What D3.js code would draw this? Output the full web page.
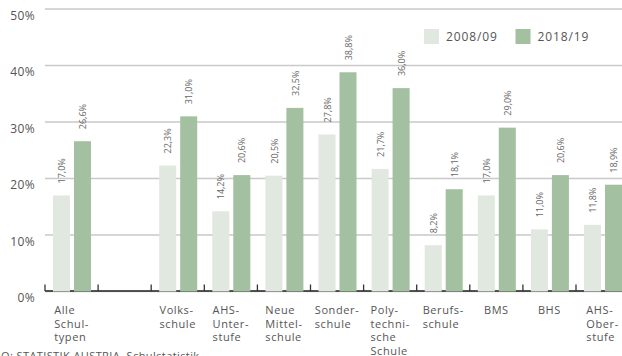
<!DOCTYPE html>
<html><head><meta charset="utf-8">
<script src="https://cdn.jsdelivr.net/npm/d3@7"></script>
<style>
html,body{margin:0;padding:0;background:#fff;overflow:hidden}
text{font-family:"Open Sans",sans-serif}
</style></head>
<body><svg id="c" width="622" height="356"></svg>
<script>
// ---- data ----
const categories = ["Alle Schultypen", "_gap", "Volksschule", "AHS-Unterstufe", "Neue Mittelschule", "Sonderschule", "Polytechnische Schule", "Berufsschule", "BMS", "BHS", "AHS-Oberstufe"];
const categoryLabels = [["Alle","Schul-","typen"], [], ["Volks-","schule"], ["AHS-","Unter-","stufe"], ["Neue","Mittel-","schule"], ["Sonder-","schule"], ["Poly-","techni-","sche","Schule"], ["Berufs-","schule"], ["BMS"], ["BHS"], ["AHS-","Ober-","stufe"]];
const seriesNames = ["2008/09", "2018/19"];
const values2008 = [17.0, null, 22.3, 14.2, 20.5, 27.8, 21.7, 8.2, 17.0, 11.0, 11.8];
const values2018 = [26.6, null, 31.0, 20.6, 32.5, 38.8, 36.0, 18.1, 29.0, 20.6, 18.9];
const yTicks = [0, 10, 20, 30, 40, 50];
const sourceText = "Q: STATISTIK AUSTRIA, Schulstatistik.";

const colors = {"2008/09": "#e0e8df", "2018/19": "#a3c0a0"};
const svg = d3.select("#c");
const step = 53.1;
const x = d3.scaleBand().domain(categories).range([45, 45 + step * categories.length]).padding(0);
const x1 = d3.scaleBand().domain(seriesNames).range([8, 46]).paddingInner(0.19).paddingOuter(0);
const y = d3.scaleLinear().domain([0, 50]).range([291.5, 9]);
const loc = d3.formatLocale({decimal: ",", thousands: ".", grouping: [3], currency: ["", "€"]});
const fmt = v => loc.format(".1f")(v) + "%";

// gridlines
svg.append("g").selectAll("line").data(yTicks).join("line")
  .attr("x1", 45).attr("x2", 622)
  .attr("y1", d => y(d)).attr("y2", d => y(d))
  .attr("stroke", "#c9c9c9").attr("stroke-width", 1.3);

// y labels
svg.append("g").selectAll("text").data(yTicks).join("text")
  .attr("x", 35).attr("y", d => y(d) + 10.5)
  .attr("text-anchor", "end").attr("font-size", 12).attr("letter-spacing", 0.4)
  .attr("fill", "#555").text(d => d + "%");

// baseline & ticks
svg.append("line").attr("x1", 45).attr("x2", 622).attr("y1", 291).attr("y2", 291)
  .attr("stroke", "#222").attr("stroke-width", 1.5);
svg.append("g").selectAll("line").data(categories).join("line")
  .attr("x1", d => x(d)).attr("x2", d => x(d))
  .attr("y1", 284.5).attr("y2", 291)
  .attr("stroke", "#333").attr("stroke-width", 1.3);

// bars
const rows = categories.map((c, i) => ({c, vals: [values2008[i], values2018[i]]}));
const barData = [];
rows.forEach(r => r.vals.forEach((v, j) => { if (v != null) barData.push({c: r.c, s: seriesNames[j], v}); }));
svg.append("g").selectAll("rect").data(barData).join("rect")
  .attr("x", d => x(d.c) + x1(d.s)).attr("width", x1.bandwidth())
  .attr("y", d => y(d.v)).attr("height", d => y(0) - y(d.v))
  .attr("fill", d => colors[d.s]);

// value labels
svg.append("g").selectAll("text").data(barData).join("text")
  .attr("transform", d => `translate(${x(d.c) + x1(d.s) + x1.bandwidth() / 2 + 0.5},${y(d.v) - 12}) rotate(-90)`)
  .attr("dy", "0.35em").attr("font-size", 9).attr("fill", "#666")
  .text(d => fmt(d.v));

// x labels
const xl = svg.append("g").selectAll("text").data(categories.map((c, i) => ({c, lines: categoryLabels[i]}))).join("text")
  .attr("font-size", 11).attr("letter-spacing", 0.6).attr("fill", "#555");
xl.each(function(d) {
  const t = d3.select(this);
  d.lines.forEach((l, k) => t.append("tspan").attr("y", 314 + k * 13.5).text(l));
  let w = 0;
  t.selectAll("tspan").each(function() { w = Math.max(w, this.getComputedTextLength()); });
  const left = x(d.c) + x.bandwidth() / 2 - w / 2;
  t.selectAll("tspan").attr("x", left);
});

// legend
const lg = svg.append("g").selectAll("g").data(seriesNames).join("g")
  .attr("transform", (d, i) => `translate(${424 + i * 91.5},29)`);
lg.append("rect").attr("width", 15).attr("height", 15).attr("fill", d => colors[d]);
lg.append("text").attr("x", 22).attr("y", 12).attr("font-size", 12).attr("letter-spacing", 0.9)
  .attr("fill", "#555").text(d => d);

// source
svg.append("text").attr("x", 1).attr("y", 360).attr("font-size", 11).attr("letter-spacing", 0.4)
  .attr("fill", "#555").text(sourceText);
</script></body></html>
